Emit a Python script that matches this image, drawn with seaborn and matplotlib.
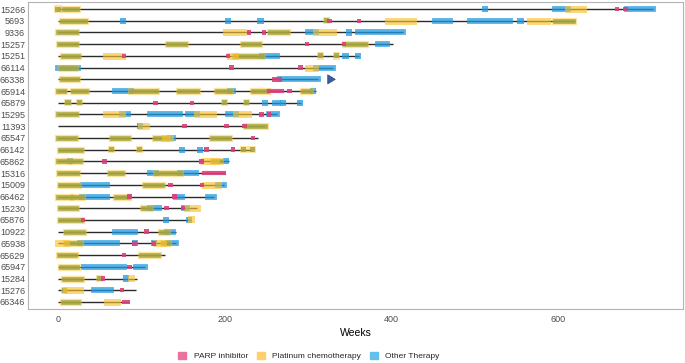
import matplotlib
matplotlib.use('Agg')
import matplotlib.pyplot as plt
from matplotlib.patches import Patch
import pandas as pd
import seaborn as sns

# patients, sorted by follow-up (top to bottom)
patients = ['15266', '5693', '9336', '15257', '15251', '66114', '66338', '65914', '65879',
            '15295', '11393', '65547', '66142', '65862', '15316', '15009', '66462', '15230',
            '65876', '10922', '65938', '65629', '65947', '15284', '15276', '66346']
end_weeks = [714, 620, 414, 402, 361, 330, 312, 309, 292, 263, 248, 240, 233,
             205, 200, 199, 187, 167, 160, 141, 141, 128, 104, 95, 93, 85]

# treatment periods: (patient, start week, end week); start == end -> single dose
platinum = [('15266', 612, 630), ('5693', 396, 426), ('5693', 566, 587),
            ('9336', 201, 222), ('9336', 309, 330), ('15251', 58, 77), ('15251', 206, 212),
            ('66114', 300, 308), ('15295', 58, 77), ('15295', 167, 186), ('15295', 214, 228),
            ('11393', 100, 105), ('65547', 128, 134), ('65862', 175, 190),
            ('15009', 176, 192), ('15230', 155, 167), ('65876', 160, 160),
            ('65938', 0, 10), ('65938', 118, 126), ('15284', 88, 88), ('15276', 10, 26),
            ('66346', 59, 71)]
other = [('15266', 512, 512), ('15266', 596, 612), ('15266', 683, 714),
         ('5693', 78, 78), ('5693', 204, 204), ('5693', 243, 243), ('5693', 452, 470),
         ('5693', 494, 542), ('5693', 555, 555), ('9336', 300, 309), ('9336', 349, 349),
         ('9336', 360, 414), ('15257', 384, 395), ('15251', 245, 263), ('15251', 345, 345),
         ('15251', 360, 360), ('66114', 0, 24), ('66114', 309, 330), ('66338', 266, 312),
         ('65914', 68, 88), ('65914', 206, 210), ('65914', 306, 306), ('65879', 248, 248),
         ('65879', 260, 264), ('65879', 270, 270), ('65879', 290, 290), ('15295', 77, 84),
         ('15295', 110, 146), ('15295', 156, 167), ('15295', 204, 214), ('15295', 253, 263),
         ('11393', 98, 98), ('65547', 134, 138), ('66142', 149, 149), ('66142', 170, 170),
         ('65862', 14, 14), ('65862', 202, 202), ('15316', 110, 118), ('15316', 146, 165),
         ('15009', 30, 59), ('15009', 192, 199), ('66462', 29, 59), ('66462', 141, 149),
         ('66462', 180, 187), ('15230', 110, 121), ('15230', 151, 155), ('65876', 130, 130),
         ('65876', 157, 157), ('10922', 68, 92), ('10922', 131, 138), ('65938', 26, 71),
         ('65938', 92, 92), ('65938', 115, 115), ('65938', 132, 141), ('65947', 31, 79),
         ('65947', 94, 104), ('15284', 82, 82), ('15276', 43, 64)]
# platinum given together with another drug
platinum_other = [('15266', 0, 0), ('15266', 7, 23), ('5693', 5, 32), ('5693', 322, 322),
                  ('5693', 596, 618), ('9336', 0, 22), ('9336', 254, 275), ('15257', 1, 22),
                  ('15257', 132, 152), ('15257', 222, 241), ('15257', 344, 368),
                  ('15251', 6, 24), ('15251', 212, 245), ('15251', 315, 315),
                  ('15251', 334, 334), ('66114', 3, 20), ('66338', 5, 23), ('65914', 0, 7),
                  ('65914', 18, 34), ('65914', 88, 117), ('65914', 145, 167),
                  ('65914', 191, 206), ('65914', 234, 251), ('65914', 294, 302),
                  ('65879', 12, 12), ('65879', 26, 26), ('65879', 200, 200),
                  ('65879', 226, 226), ('15295', 0, 22), ('11393', 226, 248),
                  ('65547', 0, 20), ('65547', 65, 84), ('65547', 116, 130),
                  ('65547', 185, 205), ('66142', 2, 28), ('66142', 64, 64), ('66142', 98, 98),
                  ('66142', 223, 223), ('66142', 233, 233), ('65862', 0, 12),
                  ('65862', 17, 26), ('65862', 186, 194), ('15316', 1, 23), ('15316', 62, 77),
                  ('15316', 118, 146), ('15009', 2, 24), ('15009', 104, 125),
                  ('66462', 0, 14), ('66462', 18, 29), ('66462', 70, 84), ('15230', 2, 22),
                  ('15230', 102, 110), ('65876', 2, 28), ('10922', 10, 30),
                  ('10922', 123, 131), ('65938', 10, 26), ('65938', 126, 132),
                  ('65629', 1, 20), ('65629', 100, 120), ('65947', 3, 23), ('15284', 7, 27),
                  ('15284', 50, 50), ('15276', 8, 8), ('66346', 6, 24)]
parp = [('15266', 671, 671), ('15266', 681, 681), ('5693', 326, 326), ('5693', 361, 361),
        ('9336', 229, 229), ('9336', 247, 247), ('15257', 299, 299), ('15257', 343, 343),
        ('15251', 79, 79), ('15251', 204, 204), ('66114', 208, 208), ('66114', 291, 291),
        ('66338', 260, 260), ('66338', 266, 266), ('65914', 253, 269), ('65914', 278, 278),
        ('65879', 117, 117), ('65879', 161, 161), ('15295', 244, 244), ('15295', 253, 253),
        ('11393', 152, 152), ('11393', 202, 202), ('11393', 224, 224), ('65547', 234, 234),
        ('66142', 178, 178), ('66142', 210, 210), ('65862', 56, 56), ('65862', 172, 172),
        ('15316', 175, 199), ('15009', 135, 135), ('15009', 173, 173), ('66462', 86, 86),
        ('66462', 140, 140), ('15230', 130, 130), ('15230', 150, 150), ('65876', 30, 30),
        ('10922', 106, 106), ('65938', 92, 92), ('65938', 115, 115), ('65629', 79, 79),
        ('65947', 86, 86), ('15284', 54, 54), ('15276', 77, 77), ('66346', 79, 79),
        ('66346', 84, 84)]

# still on treatment
ongoing_patient = '66338'
ongoing_from, ongoing_to = 322, 336

col_parp = '#DB3F7A'
col_plat = '#F9C22E'
col_other = '#1F9AE0'
col_both = '#A4A63E'   # platinum + other drug overlap

sns.set_theme(style='white')
plt.rcParams['font.family'] = ['Liberation Sans', 'DejaVu Sans']

row_of = {p: i for i, p in enumerate(patients)}

fig = plt.figure(figsize=(6.85, 3.63), dpi=100)
ax = fig.add_axes([28 / 685, 1 - 309 / 363, 655 / 685, 307 / 363])

# follow-up lines
ax.hlines(range(len(patients)), 0, end_weeks, colors='#2b2b2b', lw=1.0, zorder=1)


def draw(segs, color, lw, alpha, size, z):
    df = pd.DataFrame(segs, columns=['patient', 'start', 'end'])
    df['row'] = df['patient'].map(row_of)
    spans = df[df['end'] > df['start']]
    ax.hlines(spans['row'], spans['start'], spans['end'], colors=color, lw=lw,
              alpha=alpha, capstyle='projecting', zorder=z)
    pts = df[df['end'] == df['start']]
    sns.scatterplot(data=pts, x='start', y='row', marker='s', s=size, color=color,
                    alpha=alpha, edgecolor='none', ax=ax, zorder=z, legend=False)


draw(other, col_other, 4.2, 0.75, 20, 2)
draw(platinum_other, col_plat, 5.2, 0.45, 28, 2)
draw(platinum_other, col_both, 3.4, 0.85, 13, 3)
draw(platinum, col_plat, 5.0, 0.65, 26, 3)
draw(parp, col_parp, 3.0, 0.9, 10, 4)

r = row_of[ongoing_patient]
ax.annotate('', xy=(ongoing_to, r), xytext=(ongoing_from, r),
            arrowprops=dict(arrowstyle='simple,head_width=0.55,head_length=0.45,tail_width=0.3',
                            fc='#3B5C9E', ec='#2A4580', lw=0.5))

ax.set_xlim(-36, 750)
ax.set_ylim(len(patients) - 0.4, -0.6)
ax.set_yticks(range(len(patients)))
ax.set_yticklabels(patients)
ax.set_xticks([0, 200, 400, 600])
ax.tick_params(axis='y', labelsize=6.5, colors='#4D4D4D', length=0, pad=2)
ax.tick_params(axis='x', labelsize=6.5, colors='#4D4D4D', length=0, pad=4)
ax.set_ylabel('')
ax.set_xlabel('Weeks', fontsize=7.5, color='black', labelpad=3)
for s in ax.spines.values():
    s.set_color('#B3B3B3')
    s.set_linewidth(0.8)

handles = [Patch(color='#E8749E', label='PARP inhibitor'),
           Patch(color='#FDD06A', label='Platinum chemotherapy'),
           Patch(color='#62C0EE', label='Other Therapy')]
fig.legend(handles=handles, loc='center', bbox_to_anchor=(0.451, 0.019), ncol=3,
           frameon=False, fontsize=6, handlelength=1.0, handleheight=1.0,
           handletextpad=0.9, columnspacing=1.0)

fig.savefig('out.png', dpi=100)
